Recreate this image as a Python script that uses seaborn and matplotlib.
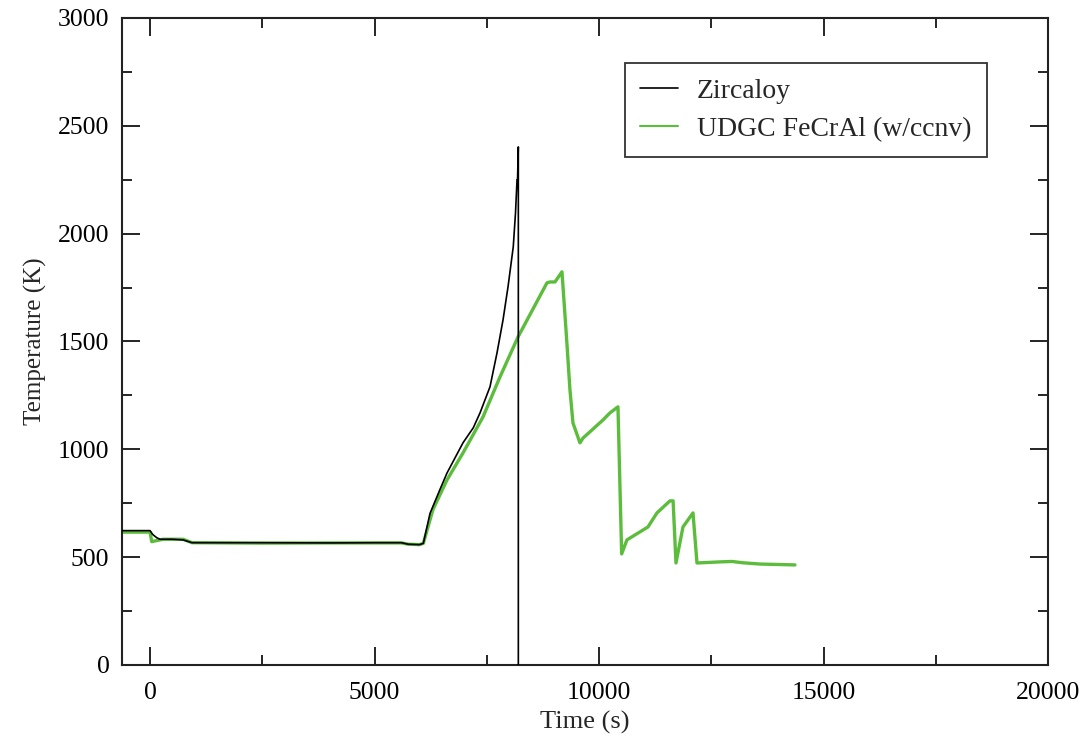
import numpy as np
import pandas as pd
import matplotlib
matplotlib.use("Agg")
import matplotlib.pyplot as plt
from matplotlib.ticker import MultipleLocator
import seaborn as sns

# ---- data ----
zr_time = [-625, 0, 60, 150, 223, 500, 735, 935, 2500, 4000, 5000, 5600,
           5750, 6000, 6087, 6236, 6450, 6614, 6970, 7200, 7350, 7572, 7728,
           7862, 7973, 8090, 8140, 8174, 8185, 8203, 8203]
zr_temp = [623, 623, 605, 590, 583, 583, 580, 567, 567, 566, 567, 567,
           560, 558, 564, 703, 810, 890, 1030, 1100, 1169, 1290, 1447,
           1600, 1753, 1939, 2096, 2250, 2250, 2402, 0]

fe_time = [-625, 0, 38, 290, 735, 935, 2500, 4000, 5000, 5600, 5750, 6000,
           6087, 6300, 6614, 6970, 7416, 7795, 8196, 8841, 8908, 9019, 9175,
           9280, 9353, 9420, 9576, 9643, 10088, 10244, 10422, 10504, 10622,
           11090, 11290, 11580, 11650, 11714, 11870, 12093, 12182, 12694,
           12961, 13200, 13585, 14364]
fe_temp = [616, 616, 572, 583, 583, 567, 565, 566, 566, 566, 560, 558,
           564, 720, 858, 983, 1150, 1336, 1521, 1772, 1776, 1776, 1823,
           1507, 1275, 1122, 1030, 1052, 1136, 1169, 1197, 515, 580,
           640, 705, 761, 761, 473, 640, 705, 473, 478,
           480, 474, 468, 464]

series_names = ["Zircaloy", "UDGC FeCrAl (w/ccnv)"]
x_ticks = [0, 5000, 10000, 15000, 20000]
y_ticks = [0, 500, 1000, 1500, 2000, 2500, 3000]

df_zr = pd.DataFrame({"Time": zr_time, "Temp": zr_temp, "Series": series_names[0]})
df_fe = pd.DataFrame({"Time": fe_time, "Temp": fe_temp, "Series": series_names[1]})

sns.set_theme(style="ticks")
plt.rcParams["font.family"] = ["Liberation Serif", "DejaVu Serif"]

fig = plt.figure(figsize=(10.92, 7.46), dpi=100)
ax = fig.add_axes([0.1117, 0.1086, 0.848, 0.8673])

green = "#5cbd3c"
sns.lineplot(data=df_fe, x="Time", y="Temp", color=green, linewidth=2.4,
             sort=False, estimator=None, ax=ax, label=series_names[1], zorder=2)
sns.lineplot(data=df_zr, x="Time", y="Temp", color="black", linewidth=1.2,
             sort=False, estimator=None, ax=ax, label=series_names[0], zorder=3)

ax.set_xlim(-625, 20000)
ax.set_ylim(0, 3000)
ax.set_xticks(x_ticks)
ax.set_yticks(y_ticks)
ax.set_xticklabels([str(v) for v in x_ticks])
ax.set_yticklabels([str(v) for v in y_ticks])
ax.xaxis.set_minor_locator(MultipleLocator(2500))
ax.yaxis.set_minor_locator(MultipleLocator(250))
ax.tick_params(which="both", direction="in", top=True, right=True, width=1.2,
               colors="black", labelsize=18.5)
ax.tick_params(which="major", length=13, pad=9)
ax.tick_params(axis="x", which="major", pad=12)
ax.tick_params(which="minor", length=7)
for s in ax.spines.values():
    s.set_linewidth(1.5)
    s.set_color("#222222")

ax.set_xlabel("Time (s)", fontsize=19, labelpad=5)
ax.set_ylabel("Temperature (K)", fontsize=18, labelpad=8)

handles, labels = ax.get_legend_handles_labels()
order = [labels.index(n) for n in series_names]
leg = ax.legend([handles[i] for i in order], [labels[i] for i in order],
                loc="upper right", bbox_to_anchor=(0.934, 0.930),
                borderaxespad=0, fontsize=20, frameon=True, fancybox=False,
                edgecolor="black", handlelength=1.35, handletextpad=0.7,
                borderpad=0.55, labelspacing=0.45)
leg.get_frame().set_linewidth(1.3)
leg.get_lines()[0].set_linewidth(1.2)
leg.get_lines()[1].set_linewidth(1.5)

fig.savefig("out.png", dpi=100, facecolor="white")
